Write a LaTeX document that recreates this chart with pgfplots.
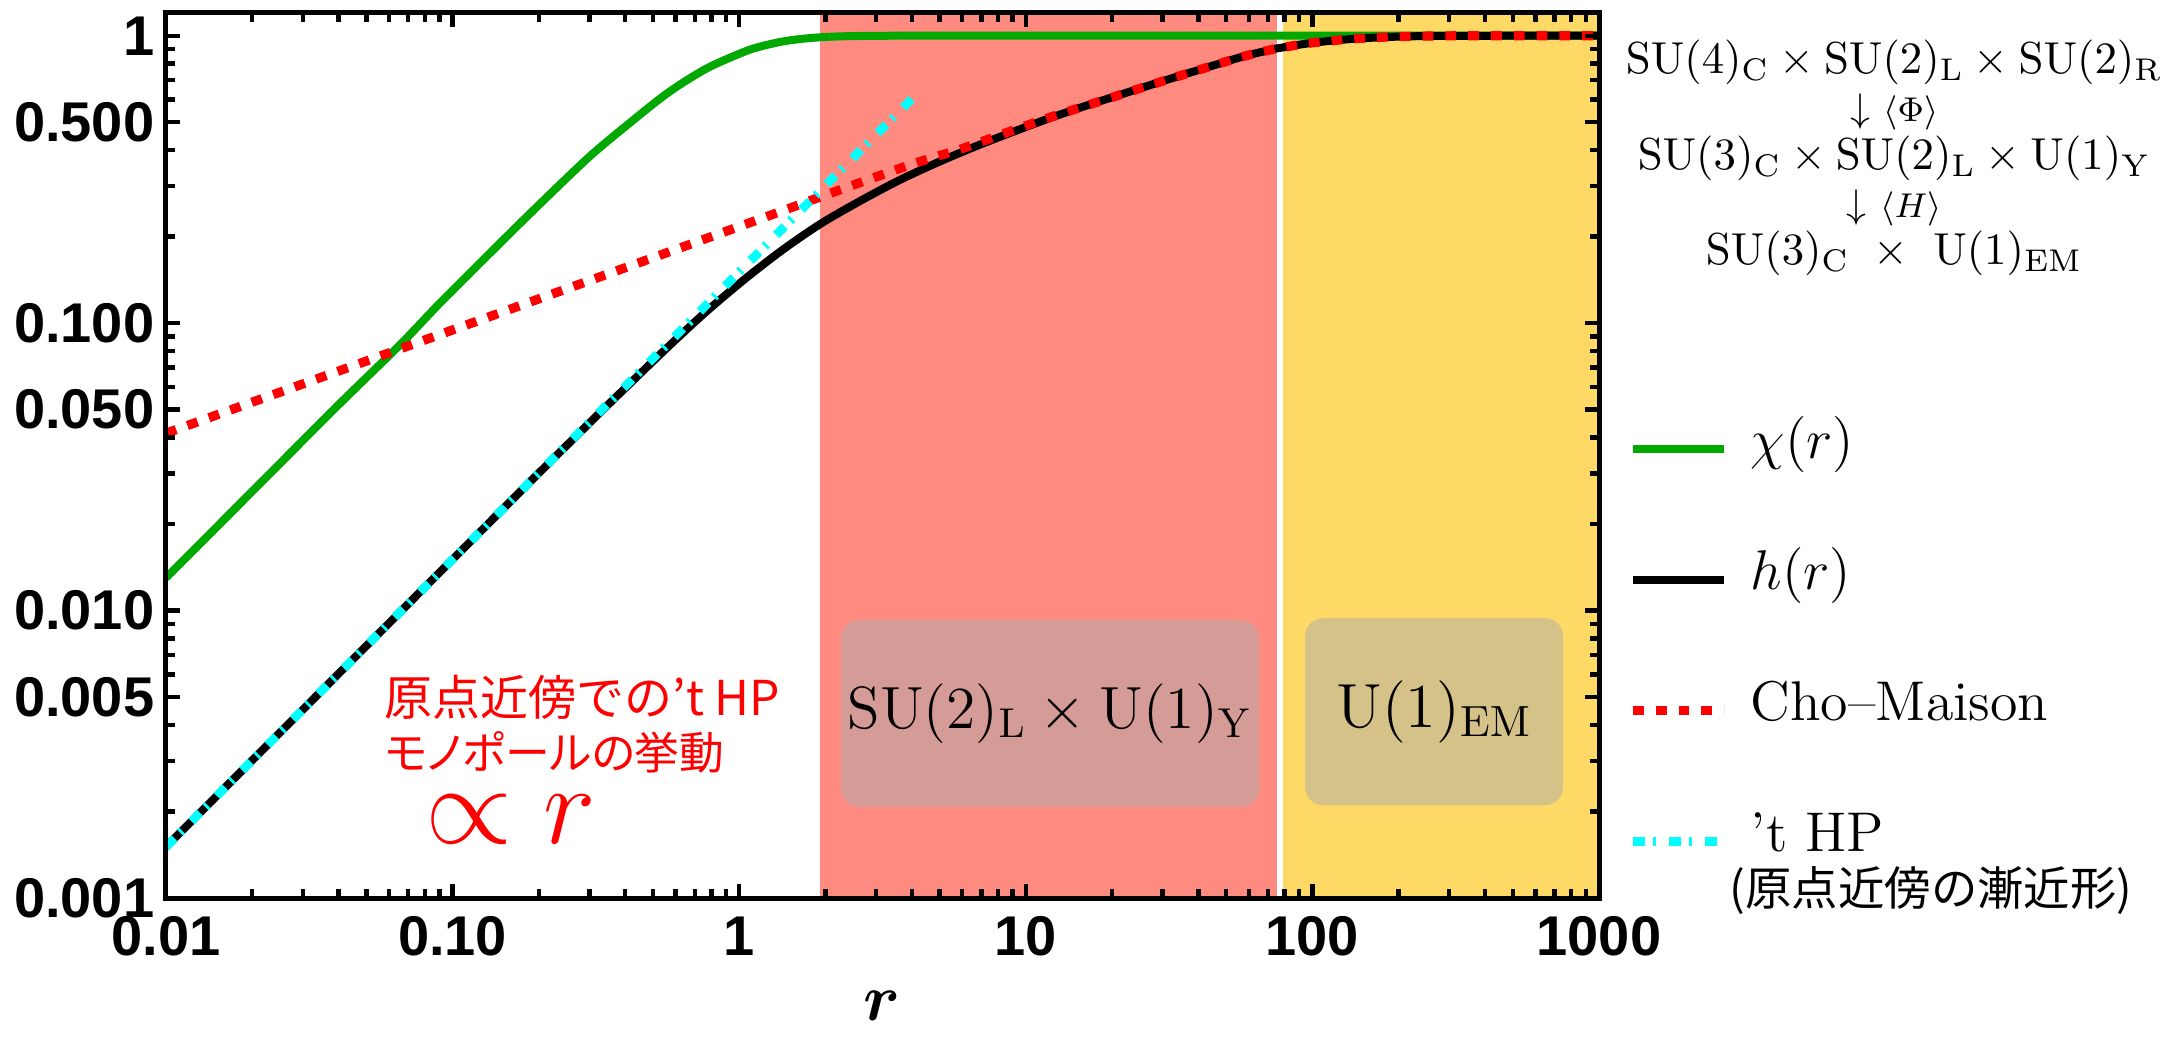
\RequirePackage{fix-cm}
\documentclass[border=0pt]{standalone}
\usepackage[no-math]{fontspec}
\usepackage{amsmath}
\usepackage{pgfplots}
\pgfplotsset{compat=1.18}
\newfontfamily\tickfont{Liberation Sans}
\newfontfamily\jp{Noto Sans CJK JP}
\newfontfamily\jpp[RawFeature=+palt]{Noto Sans CJK JP}
\definecolor{mgreen}{RGB}{0,168,0}
\definecolor{mcyan}{RGB}{0,255,255}
\definecolor{regred}{RGB}{255,139,128}
\definecolor{regyel}{RGB}{255,217,102}
\definecolor{boxgray}{RGB}{172,172,172}
\begin{document}
\begin{tikzpicture}
\useasboundingbox (-41.5pt,-39.75pt) rectangle (501.5pt,224.5pt);
\begin{axis}[
  xmode=log, ymode=log,
  scale only axis, width=358.25pt, height=221.25pt,
  xmin=0.01, xmax=1000, ymin=0.001, ymax=1.2,
  axis on top, clip=false,
  axis line style={line width=1.25pt},
  every tick/.style={black, line width=1.1pt},
  major tick length=3.6pt, minor tick length=2.3pt,
  tick align=inside,
  xtick={0.01,0.1,1,10,100,1000},
  xticklabels={0.01,0.10,1,10,100,1000},
  minor xtick={0.02,0.03,0.04,0.05,0.06,0.07,0.08,0.09,0.2,0.3,0.4,0.5,0.6,0.7,0.8,0.9,2,3,4,5,6,7,8,9,20,30,40,50,60,70,80,90,200,300,400,500,600,700,800,900},
  ytick={0.001,0.005,0.01,0.05,0.1,0.5,1},
  yticklabels={0.001,0.005,0.010,0.050,0.100,0.500,1},
  minor ytick={0.002,0.003,0.004,0.006,0.007,0.008,0.009,0.02,0.03,0.04,0.06,0.07,0.08,0.09,0.2,0.3,0.4,0.6,0.7,0.8,0.9},
  ticklabel style={font=\tickfont\bfseries\fontsize{14}{14}\selectfont},
  xticklabel style={inner sep=0pt, yshift=-4.5pt},
  yticklabel style={inner sep=0pt, xshift=-2.75pt},
  xlabel={$\boldsymbol{r}$},
  xlabel style={font=\fontsize{16.5}{16.5}\selectfont, at={(axis description cs:0.5,0)}, anchor=center, yshift=-27pt},
  legend style={draw=none, fill=none, at={(1.020,0.531)}, anchor=north west,
    inner xsep=0pt, inner ysep=0pt, row sep=22.75pt,
    font=\fontsize{14}{14}\selectfont,
    nodes={inner sep=0pt, text height=0.75em, text depth=0.25em},
    /tikz/every odd column/.append style={column sep=5.5pt}},
  legend cell align=left,
  legend image code/.code={\draw[#1, line cap=butt] (0pt,0pt) -- (22.8pt,0pt);},
]
% regions
\addplot[draw=none, fill=regred, forget plot] coordinates {(1.91,0.001) (77,0.001) (77,1.2) (1.91,1.2)};
\addplot[draw=none, fill=regyel, forget plot] coordinates {(77,0.001) (1000,0.001) (1000,1.2) (77,1.2)};
\addplot[white, line width=1.5pt, forget plot] coordinates {(77,0.001) (77,1.2)};

% chi(r)
\addplot[mgreen, line width=2pt, smooth] coordinates {
(0.01,0.0130) (0.02,0.0260) (0.04,0.0520) (0.0655,0.0840) (0.0891,0.1158)
(0.1212,0.1574) (0.1648,0.2135) (0.2243,0.2880) (0.305,0.3850) (0.4147,0.497)
(0.5639,0.633) (0.767,0.768) (1.043,0.880) (1.2,0.920) (1.418,0.955) (1.65,0.975)
(1.928,0.988) (2.2,0.994) (2.62,0.998) (3.5,1.0) (10,1.0) (100,1.0) (1000,1.0)};
\addlegendentry{$\chi(r)$}

% h(r)
\addplot[black, line width=2pt, smooth] coordinates {
(0.01,0.001507) (0.03,0.00452) (0.1,0.01507) (0.2,0.0301) (0.3,0.0449)
(0.3666,0.0546) (0.5639,0.0826) (0.767,0.1096) (1.043,0.1420) (1.418,0.180)
(1.928,0.222) (2.622,0.265) (3.567,0.312) (4.852,0.360) (6.597,0.410)
(8.97,0.462) (12.2,0.518) (16.6,0.575) (22.6,0.635) (30.7,0.700)
(41.8,0.770) (56.9,0.845) (72,0.895) (77,0.907) (100,0.945) (140,0.976)
(200,0.993) (300,0.999) (500,1.0) (1000,1.0)};
\addlegendentry{$h(r)$}

% Cho-Maison
\addplot[red, line width=2.3pt, dash pattern=on 2.7pt off 3pt, smooth] coordinates {
(0.01,0.0414) (0.1,0.0947) (1,0.2168) (2,0.279) (4,0.357) (6,0.405)
(8.97,0.468) (12.2,0.521) (16.6,0.575) (22.6,0.635) (30.7,0.700)
(41.8,0.770) (56.9,0.845) (72,0.895) (77,0.907) (100,0.945) (140,0.976)
(200,0.993) (300,0.999) (500,1.0) (1000,1.0)};
\addlegendentry{Cho–Maison}

% 't HP asymptotic
\addplot[mcyan, line width=2.2pt, dash pattern=on 3pt off 2pt on 0.7pt off 3.3pt] coordinates {
(0.01,0.001507) (0.1,0.01507) (1,0.1507) (4.15,0.625)};
\addlegendentry{’t HP}

% region boxes
\node[fill=boxgray, fill opacity=0.5, text opacity=1, rounded corners=4.5pt,
  minimum width=104.5pt, minimum height=46.75pt, inner sep=0pt,
  font=\fontsize{14.9}{14.9}\selectfont] at (axis cs:12.15,0.00438)
  {$\mathrm{SU}(2)_\mathrm{L}\times\mathrm{U}(1)_\mathrm{Y}$};
\node[fill=boxgray, fill opacity=0.5, text opacity=1, rounded corners=4.5pt,
  minimum width=64.5pt, minimum height=46.75pt, inner sep=0pt,
  font=\fontsize{15.6}{15.6}\selectfont] at (axis cs:265.7,0.00445)
  {$\mathrm{U}(1)_\mathrm{EM}$};

% annotations
\node[anchor=west, align=left, text=red, inner sep=0pt,
  font=\jp\fontsize{12}{13.5}\selectfont] at (axis cs:0.0576,0.00402)
  {原点近傍での’t HP\\{\jpp\fontsize{11.2}{13.5}\selectfont モノポールの挙動}};
\node[text=red, inner sep=0pt, font=\fontsize{28}{28}\selectfont] at (axis cs:0.16,0.00188) {$\propto r$};

% right text block
\node[align=center, inner sep=0pt, font=\fontsize{11.2}{11.34}\selectfont] at (rel axis cs:1.206,0.836)
{$\mathrm{SU}(4)_\mathrm{C}\times\mathrm{SU}(2)_\mathrm{L}\times\mathrm{SU}(2)_\mathrm{R}$\\[0.6pt]
{\fontsize{10}{11.34}\selectfont$\downarrow$\ \fontsize{8.6}{11.34}\selectfont$\langle\Phi\rangle$}\\[0.6pt]
$\mathrm{SU}(3)_\mathrm{C}\times\mathrm{SU}(2)_\mathrm{L}\times\mathrm{U}(1)_\mathrm{Y}$\\[0.6pt]
{\fontsize{10}{11.34}\selectfont$\downarrow$\ \fontsize{8.6}{11.34}\selectfont$\langle H\rangle$}\\[0.6pt]
$\mathrm{SU}(3)_\mathrm{C}\ \times\ \mathrm{U}(1)_\mathrm{EM}$};

\node[inner sep=0pt, font=\jp\fontsize{11.6}{11.6}\selectfont] at (rel axis cs:1.2317,0.008) {(原点近傍の漸近形)};
\end{axis}
\end{tikzpicture}
\end{document}
